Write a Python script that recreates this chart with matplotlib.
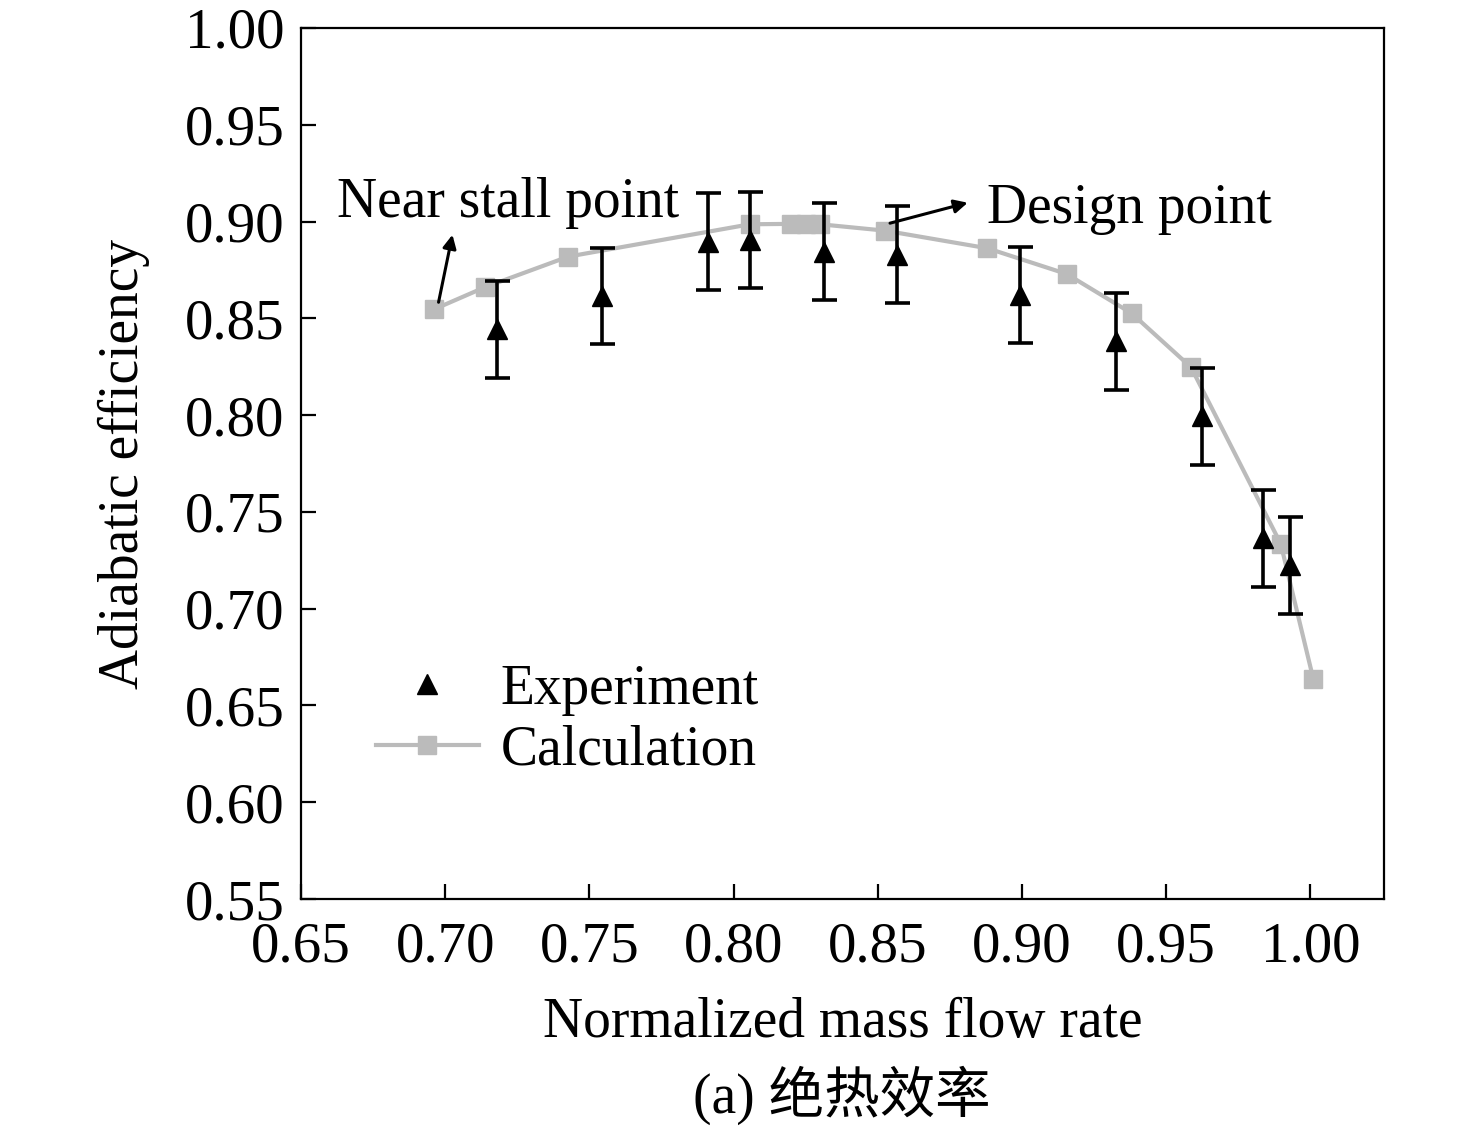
import matplotlib
matplotlib.use("Agg")
import matplotlib.pyplot as plt

plt.rcParams['font.family'] = ['Liberation Serif', 'Noto Sans CJK SC', 'DejaVu Sans']
plt.rcParams['mathtext.fontset'] = 'stix'

# Experiment data
exp_x = [0.7179, 0.7543, 0.7912, 0.8057, 0.8313, 0.8566, 0.8993, 0.9326, 0.9623, 0.9837, 0.9929]
exp_y = [0.8443, 0.8615, 0.8895, 0.8905, 0.8845, 0.8828, 0.8620, 0.8382, 0.7994, 0.7364, 0.7225]
exp_err = [0.025, 0.025, 0.025, 0.025, 0.025, 0.025, 0.025, 0.025, 0.025, 0.025, 0.025]

# Calculation data
calc_x = [0.6962, 0.7138, 0.7427, 0.8057, 0.8200, 0.8250, 0.8300, 0.8525, 0.8880, 0.9155, 0.9380, 0.9586, 0.9897, 1.0010]
calc_y = [0.8547, 0.8661, 0.8819, 0.8986, 0.8988, 0.8988, 0.8986, 0.8953, 0.8862, 0.8729, 0.8526, 0.8247, 0.7335, 0.6636]

x_ticks = [0.65, 0.70, 0.75, 0.80, 0.85, 0.90, 0.95, 1.00]
y_ticks = [0.55, 0.60, 0.65, 0.70, 0.75, 0.80, 0.85, 0.90, 0.95, 1.00]

FS = 40
TFS = 41
GRAY = '#bbbbbb'

fig = plt.figure(figsize=(14.76, 11.30), dpi=100)
ax = fig.add_axes([301/1476, 1-899/1130, (1384-301)/1476, (899-28)/1130])

ax.plot(calc_x, calc_y, '-s', color=GRAY, lw=3, ms=13, mec=GRAY, mfc=GRAY,
        label='Calculation', zorder=2)
ax.errorbar(exp_x, exp_y, yerr=exp_err, fmt='none', ecolor='black', elinewidth=2.6,
            capsize=9, capthick=2.6, zorder=3)
ax.plot(exp_x, exp_y, '^', color='black', ms=15, ls='none', label='Experiment', zorder=4)

ax.set_xlim(0.65, 1.0255)
ax.set_ylim(0.55, 1.00)
ax.set_xticks(x_ticks)
ax.set_xticklabels([f'{v:.2f}' for v in x_ticks])
ax.set_yticks(y_ticks)
ax.set_yticklabels([f'{v:.2f}' for v in y_ticks])
ax.tick_params(direction='in', length=11, width=1.6, labelsize=TFS,
               top=False, right=False)
ax.tick_params(axis='x', pad=16)
ax.tick_params(axis='y', pad=12)
for s in ax.spines.values():
    s.set_linewidth(1.6)

ax.set_xlabel('Normalized mass flow rate', fontsize=FS, labelpad=17)
ax.set_ylabel('Adiabatic efficiency', fontsize=FS, labelpad=25)

# annotations
ax.annotate('', xy=(0.7027, 0.8946), xytext=(0.6975, 0.8569),
            arrowprops=dict(arrowstyle='-|>', color='black', lw=2.2, mutation_scale=20))
ax.text(0.6625, 0.9097, 'Near stall point', fontsize=FS, va='center', ha='left')
ax.annotate('', xy=(0.8821, 0.9101), xytext=(0.8533, 0.8988),
            arrowprops=dict(arrowstyle='-|>', color='black', lw=2.2, mutation_scale=20))
ax.text(0.888, 0.9065, 'Design point', fontsize=FS, va='center', ha='left')

handles, labels = ax.get_legend_handles_labels()
order = [labels.index('Experiment'), labels.index('Calculation')]
ax.legend([handles[i] for i in order], [labels[i] for i in order],
          loc='upper left', bbox_to_anchor=(0.069, 0.27), frameon=False,
          fontsize=FS, handlelength=1.85, handletextpad=0.4, borderpad=0,
          borderaxespad=0, labelspacing=0.15)

fig.text(842/1476, 1-1095/1130, '(a) 绝热效率', fontsize=FS, ha='center', va='center')

fig.savefig('out.png', dpi=100)
